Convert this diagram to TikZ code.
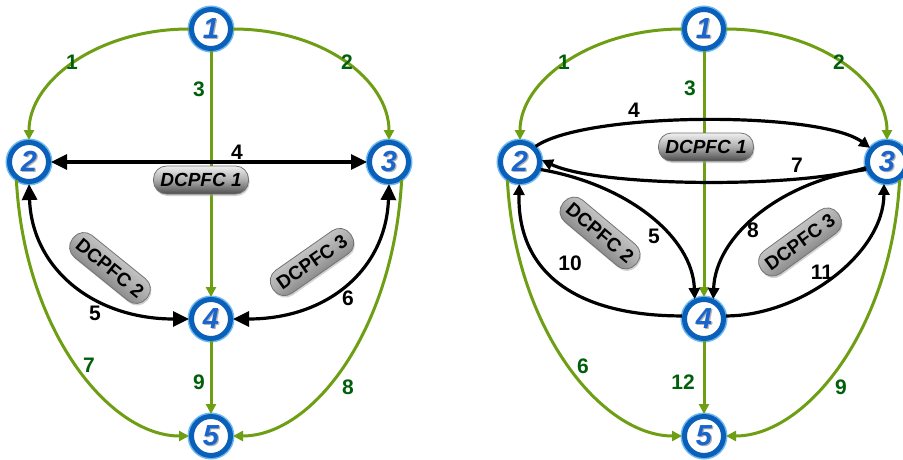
\documentclass[tikz,border=0pt]{standalone}
\usepackage{fontspec}
\setmainfont{Liberation Sans}
\usetikzlibrary{arrows.meta,shadows}
\definecolor{ringdark}{RGB}{10,95,185}
\definecolor{ringlight}{RGB}{110,185,240}
\definecolor{numblue}{RGB}{25,100,205}
\definecolor{edgegreen}{RGB}{110,158,20}
\definecolor{labgreen}{RGB}{0,95,10}
\newcommand\vnum[1]{\rlap{\kern1.3pt\raisebox{-1.3pt}{\color{gray!60}#1}}#1}
\begin{document}
\begin{tikzpicture}[x=1pt,y=1pt,
 vtx/.style={circle, minimum size=39pt, inner sep=0pt, fill=white, draw=ringdark, line width=5pt,
   preaction={draw=ringlight, line width=8pt}, text=numblue,
   font=\fontsize{29}{29}\selectfont\bfseries\itshape},
 gedge/.style={draw=edgegreen, line width=3pt, -{Triangle[length=10pt,width=10pt]}},
 bedgeL/.style={draw=black, line width=3.2pt, {Triangle[length=16pt,width=15pt]}-{Triangle[length=16pt,width=15pt]}},
 bedgeR/.style={draw=black, line width=3.2pt, -{Triangle[length=11pt,width=11pt]}},
 glab/.style={text=labgreen, font=\fontsize{21}{21}\selectfont\bfseries, inner sep=0pt},
 blab/.style={text=black, font=\fontsize{21}{21}\selectfont\bfseries, inner sep=0pt},
 pill/.style={rounded corners=13pt, minimum width=95pt, minimum height=28pt, inner sep=0pt,
   top color=gray!12, bottom color=black!70, middle color=gray!65, draw=black!55, line width=0.8pt,
   font=\fontsize{19}{19}\selectfont\bfseries\itshape,
   drop shadow={shadow xshift=1pt, shadow yshift=-2pt, fill=black!35}},
 pillr/.style={pill, font=\fontsize{19}{19}\selectfont\bfseries}
]
\useasboundingbox[fill=white] (0,0) rectangle (903,-459);

% ---------- left diagram ----------
\node[vtx] (L1) at (211,-29) {\vnum{1}};
\node[vtx] (L2) at (29,-162) {\vnum{2}};
\node[vtx] (L3) at (389,-162) {\vnum{3}};
\node[vtx] (L4) at (211,-319) {\vnum{4}};
\node[vtx] (L5) at (211,-436) {\vnum{5}};

\draw[gedge] (L1.west) .. controls +(-90,0) and +(0,60) .. (L2.north);
\draw[gedge] (L1.east) .. controls +(90,0) and +(0,60) .. (L3.north);
\draw[gedge] (L1) -- (L4);
\draw[gedge] (L2.235) .. controls +(8,-150) and +(-80,0) .. (L5.west);
\draw[gedge] (L3.-55) .. controls +(-8,-150) and +(80,0) .. (L5.east);
\draw[gedge] (L4) -- (L5);
\draw[bedgeL] (L2) -- (L3);
\draw[bedgeL] (L2.south) .. controls +(3,-85) and +(-95,0) .. (L4.west);
\draw[bedgeL] (L3.south) .. controls +(-3,-85) and +(95,0) .. (L4.east);

\node[pill] (PL1) at (201,-180) {DCPFC 1};
\node[pillr, rotate=-39, shading angle=-39] (PL2) at (110,-268) {DCPFC 2};
\node[pillr, rotate=35, shading angle=35] (PL3) at (312,-262) {DCPFC 3};

\node[glab] (tl1) at (72,-62) {1};
\node[glab] (tl2) at (347,-62) {2};
\node[glab] (tl3) at (199,-89) {3};
\node[blab] (tl4) at (237,-152) {4};
\node[blab] (tl5) at (95,-313) {5};
\node[blab] (tl6) at (348,-298) {6};
\node[glab] (tl7) at (89,-365) {7};
\node[glab] (tl8) at (348,-387) {8};
\node[glab] (tl9) at (199,-382) {9};

% ---------- right diagram ----------
\node[vtx] (R1) at (704,-29) {\vnum{1}};
\node[vtx] (R2) at (520,-162) {\vnum{2}};
\node[vtx] (R3) at (887,-162) {\vnum{3}};
\node[vtx] (R4) at (704,-319) {\vnum{4}};
\node[vtx] (R5) at (704,-436) {\vnum{5}};

\draw[gedge] (R1.west) .. controls +(-90,0) and +(0,60) .. (R2.north);
\draw[gedge] (R1.east) .. controls +(90,0) and +(0,60) .. (R3.north);
\draw[gedge] (R1) -- (R4);
\draw[gedge] (R2.235) .. controls +(8,-150) and +(-80,0) .. (R5.west);
\draw[gedge] (R3.-55) .. controls +(-8,-150) and +(80,0) .. (R5.east);
\draw[gedge] (R4) -- (R5);

\draw[bedgeR] (R2.45) .. controls +(50,35) and +(-50,37) .. (R3.140);
\draw[bedgeR] (R3.195) .. controls +(-60,-20) and +(60,-28) .. (R2.5);
\draw[bedgeR] (R2.-20) .. controls +(87,-15) and +(-2,62) .. (R4.115);
\draw[bedgeR] (R4.172) .. controls +(-107,0) and +(-2,-88) .. (R2.-92);
\draw[bedgeR] (R3.200) .. controls +(-86,-12) and +(2,63) .. (R4.65);
\draw[bedgeR] (R4.8) .. controls +(75,0) and +(0,-70) .. (R3.-98);

\node[pill] (PR1) at (706,-147) {DCPFC 1};
\node[pillr, rotate=-40, shading angle=-40] (PR2) at (600,-233) {DCPFC 2};
\node[pillr, rotate=36, shading angle=36] (PR3) at (800,-242) {DCPFC 3};

\node[glab] (tr1) at (564,-62) {1};
\node[glab] (tr2) at (839,-62) {2};
\node[glab] (tr3) at (690,-88) {3};
\node[blab] (tr4) at (634,-110) {4};
\node[blab] (tr5) at (654,-236) {5};
\node[glab] (tr6) at (583,-366) {6};
\node[blab] (tr7) at (797,-165) {7};
\node[blab] (tr8) at (753,-230) {8};
\node[glab] (tr9) at (841,-387) {9};
\node[blab] (tr10) at (570,-263) {10};
\node[blab] (tr11) at (822,-272) {11};
\node[glab] (tr12) at (683,-382) {12};
\end{tikzpicture}
\end{document}
